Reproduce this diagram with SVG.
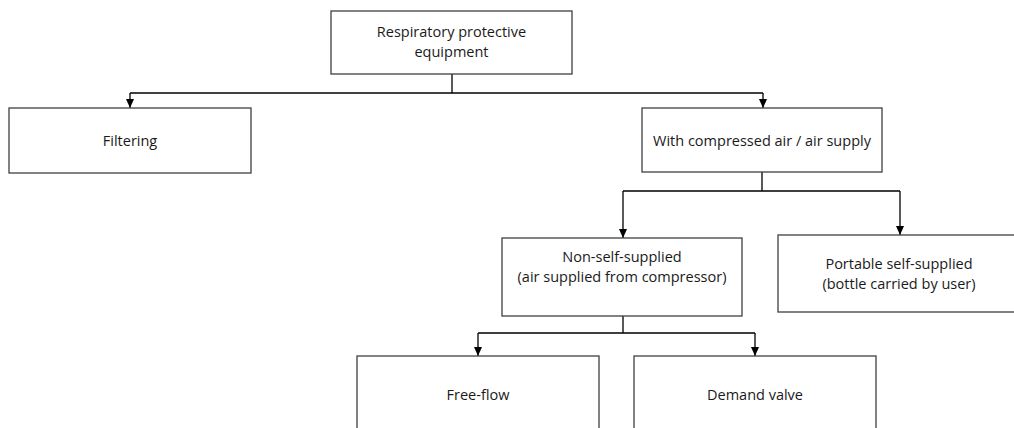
<svg xmlns="http://www.w3.org/2000/svg" width="1014" height="428" viewBox="0 0 1014 428">
<defs>
<marker id="arr" markerWidth="9" markerHeight="8" refX="9" refY="4" orient="auto" markerUnits="userSpaceOnUse" viewBox="0 0 9 8">
<path d="M0,0 L9,4 L0,8 Z" fill="#000"/>
</marker>
</defs>
<style>
.box{fill:#fff;stroke:#404040;stroke-width:1.3}
.lbl{font-family:"Open Sans","Liberation Sans",Arial,sans-serif;font-size:14.5px;fill:#1a1a1a;text-anchor:middle}
.con{fill:none;stroke:#000;stroke-width:1.3}
</style>
<rect width="1014" height="428" fill="#fff"/>
<g id="connectors">
<path class="con" d="M452,74 V93"/>
<path class="con" d="M130,93 H763"/>
<path class="con" d="M130,93 V108" marker-end="url(#arr)"/>
<path class="con" d="M763,93 V108" marker-end="url(#arr)"/>
<path class="con" d="M762,172 V191 M623,191 H900"/>
<path class="con" d="M623,191 V238" marker-end="url(#arr)"/>
<path class="con" d="M900,191 V235" marker-end="url(#arr)"/>
<path class="con" d="M623,316 V333 M478,333 H755"/>
<path class="con" d="M478,333 V356" marker-end="url(#arr)"/>
<path class="con" d="M755,333 V356" marker-end="url(#arr)"/>
</g>
<g id="n-rpe">
<rect class="box" x="331" y="11" width="241" height="63"/>
<text class="lbl" x="451.5" y="37">Respiratory protective</text>
<text class="lbl" x="451.5" y="57">equipment</text>
</g>
<g id="n-filtering">
<rect class="box" x="9" y="108" width="242" height="65"/>
<text class="lbl" x="130" y="146">Filtering</text>
</g>
<g id="n-compressed">
<rect class="box" x="642" y="108" width="240" height="64"/>
<text class="lbl" x="762" y="146">With compressed air / air supply</text>
</g>
<g id="n-nonself">
<rect class="box" x="502" y="238" width="240" height="78"/>
<text class="lbl" x="622" y="262">Non-self-supplied</text>
<text class="lbl" x="622" y="282">(air supplied from compressor)</text>
</g>
<g id="n-portable">
<rect class="box" x="778" y="235" width="242" height="77"/>
<text class="lbl" x="899" y="269">Portable self-supplied</text>
<text class="lbl" x="899" y="289">(bottle carried by user)</text>
</g>
<g id="n-freeflow">
<rect class="box" x="357" y="356" width="242" height="80"/>
<text class="lbl" x="478" y="400">Free-flow</text>
</g>
<g id="n-demand">
<rect class="box" x="634" y="356" width="242" height="80"/>
<text class="lbl" x="755" y="400">Demand valve</text>
</g>
</svg>
